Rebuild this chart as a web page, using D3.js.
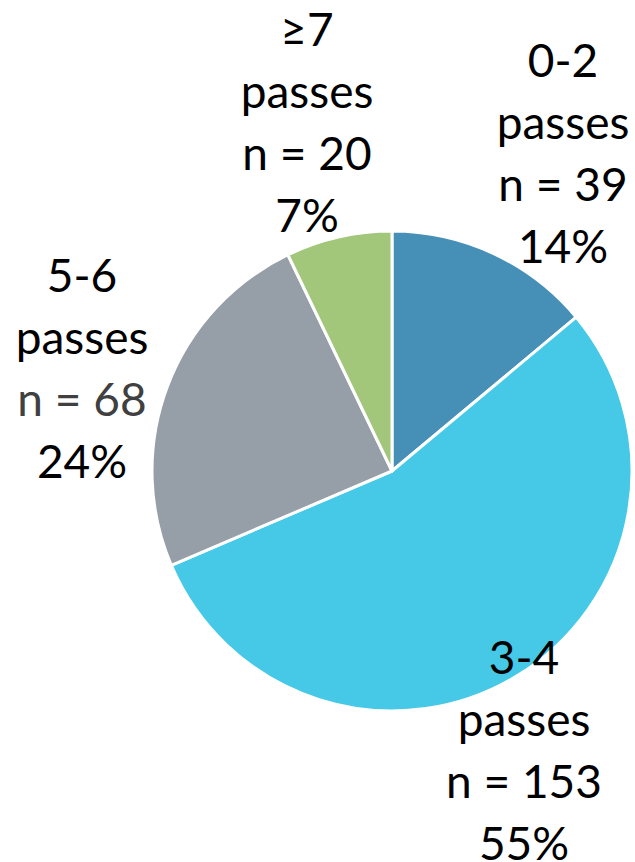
<!DOCTYPE html>
<html>
<head>
<meta charset="utf-8">
<script src="https://cdn.jsdelivr.net/npm/d3@7"></script>
<style>
  html, body { margin: 0; padding: 0; background: #ffffff; }
  svg { display: block; }
</style>
</head>
<body>
<svg id="chart" width="635" height="862"></svg>
<script>
// Number of passes per group
const categories = ["0-2", "3-4", "5-6", "\u22657"];
const counts = [39, 153, 68, 20];
const percents = ["14%", "55%", "24%", "7%"];
const colors = ["#4690b8", "#45c9e6", "#969ea8", "#a2c67a"];

// Label block layout: centre x and first baseline for each slice's label
const labelLayout = [
  { x: 563, y: 77 },
  { x: 524, y: 674 },
  { x: 82, y: 292 },
  { x: 307, y: 46 }
];
const lineStep = 62;

const width = 635, height = 862;
const cx = 392, cy = 471, radius = 240;

const svg = d3.select("#chart");
const g = svg.append("g").attr("transform", `translate(${cx},${cy})`);

const pie = d3.pie().sort(null).value(d => d.count);
const arc = d3.arc().innerRadius(0).outerRadius(radius);

const data = categories.map((c, i) => ({ cat: c, count: counts[i], pct: percents[i], color: colors[i] }));
const arcs = pie(data);

g.selectAll("path.slice")
  .data(arcs)
  .join("path")
  .attr("class", "slice")
  .attr("d", arc)
  .attr("fill", d => d.data.color)
  .attr("stroke", "#ffffff")
  .attr("stroke-width", 3)
  .attr("stroke-linejoin", "round");

const labels = svg.selectAll("text.label")
  .data(arcs)
  .join("text")
  .attr("class", "label")
  .attr("text-anchor", "middle")
  .attr("font-family", "Lato, 'Open Sans', sans-serif")
  .attr("font-size", 46)
  .attr("fill", "#000000");

labels.each(function(d, i) {
  const pos = labelLayout[i];
  const t = d3.select(this);
  const lines = [d.data.cat, "passes", `n = ${d.data.count}`, d.data.pct];
  lines.forEach((txt, j) => {
    t.append("tspan")
      .attr("x", pos.x)
      .attr("y", pos.y + j * lineStep)
      .attr("fill", (d.data.cat === "5-6" && j === 2) ? "#404040" : "#000000")
      .text(txt);
  });
});
</script>
</body>
</html>
